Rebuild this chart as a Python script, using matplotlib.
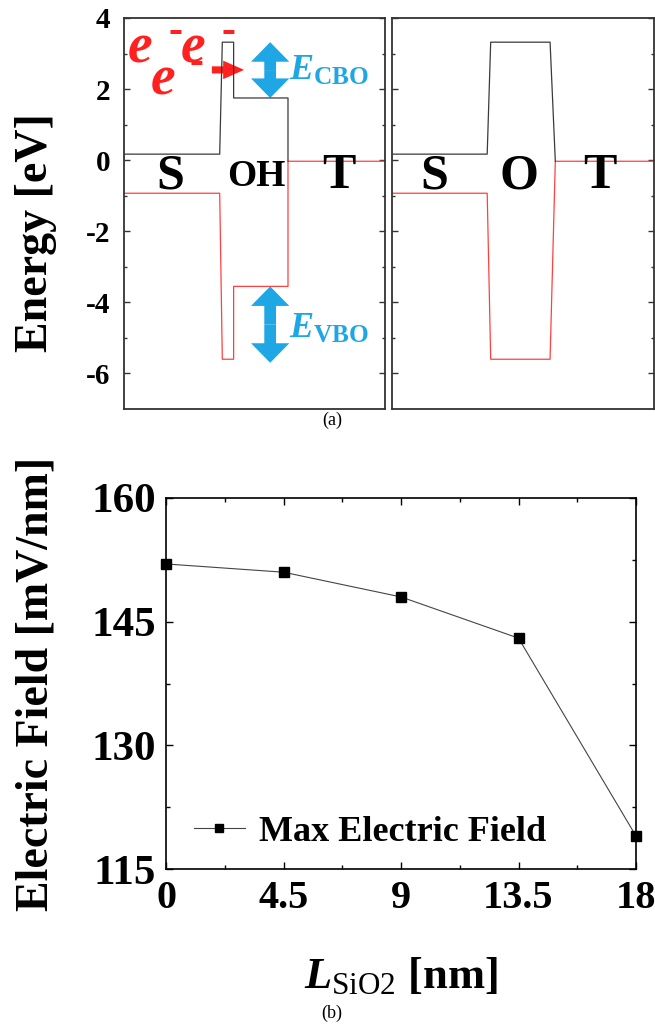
import numpy as np
import matplotlib
matplotlib.use("Agg")
import matplotlib.pyplot as plt
from matplotlib.patches import FancyArrow

params = {
    "font.family": "serif",
    "font.serif": ["Liberation Serif", "DejaVu Serif"],
    "font.weight": "bold",
    "mathtext.fontset": "custom",
    "mathtext.rm": "Liberation Serif:regular",
    "mathtext.it": "Liberation Serif:italic:bold",
    "mathtext.bf": "Liberation Serif:bold",
    "axes.unicode_minus": False,
    "xtick.direction": "in",
    "ytick.direction": "in",
}
plt.rcParams.update(params)

# band diagrams: position across the device [nm] and band energy [eV]
x_oh = [0, 11.0, 11.3, 12.6, 12.6, 18.85, 18.85]
cb_oh = [0.17, 0.17, 3.32, 3.32, 1.75, 1.75, -0.03]
xv_oh = [0, 11.0, 11.3, 12.6, 12.6, 18.85, 18.85, 30]
vb_oh = [-0.93, -0.93, -5.6, -5.6, -3.55, -3.55, -0.03, -0.03]

x_o = [0, 10.9, 11.3, 18.1, 18.7]
cb_o = [0.17, 0.17, 3.32, 3.32, -0.03]
xv_o = [0, 10.9, 11.3, 18.1, 18.7, 30]
vb_o = [-0.93, -0.93, -5.6, -5.6, -0.03, -0.03]

# max electric field vs SiO2 length
l_sio2 = [0, 4.5, 9, 13.5, 18]
e_max = [152, 151, 148, 143, 119]

blue = "#1ea7e4"
red = "#ff2020"
band_red = "#ff4040"
band_black = "#3a3a3a"

fig = plt.figure(figsize=(6.55, 10.26), dpi=100)
W, H = 655, 1026


def add_axes_px(x0, y0, x1, y1):
    return fig.add_axes([x0 / W, 1 - y1 / H, (x1 - x0) / W, (y1 - y0) / H])


ax1 = add_axes_px(124, 18, 385, 409)
ax2 = add_axes_px(392, 18, 654, 409)
ax3 = add_axes_px(166, 498, 636, 869)

for ax in (ax1, ax2):
    ax.set_xlim(0, 30)
    ax.set_ylim(-7, 4)
    ax.set_yticks([4, 2, 0, -2, -4, -6])
    ax.set_yticks([3, 1, -1, -3, -5], minor=True)
    ax.set_xticks([])
    ax.tick_params(axis="y", which="both", left=True, right=True,
                   width=1.0, color="#333333")
    ax.tick_params(axis="y", which="major", length=4)
    ax.tick_params(axis="y", which="minor", length=2.5)
    for s in ax.spines.values():
        s.set_color("#333333")
        s.set_linewidth(1.3)

ax1.plot(xv_oh, vb_oh, color=band_red, lw=0.9)
ax1.plot(x_oh, cb_oh, color=band_black, lw=0.9)
ax2.plot(xv_o, vb_o, color=band_red, lw=0.9)
ax2.plot(x_o, cb_o, color=band_black, lw=0.9)

ax1.tick_params(axis="y", labelsize=21, pad=10)
ax2.tick_params(axis="y", labelleft=False)
ax1.set_ylabel("Energy [eV]", fontsize=33, fontweight="bold")
ax1.yaxis.set_label_coords(-0.255, 0.45)

# region letters
for x, t, fs in [(5.3, "S", 36), (15.2, "OH", 27), (24.7, "T", 36)]:
    ax1.text(x, -0.45, t, fontsize=fs, fontweight="bold", ha="center", va="center")
for x, t in [(4.8, "S"), (14.5, "O"), (23.8, "T")]:
    ax2.text(x, -0.45, t, fontsize=36, fontweight="bold", ha="center", va="center")


def double_arrow(ax, x, y0, y1):
    mid = (y0 + y1) / 2
    for end in (y0, y1):
        ax.add_patch(FancyArrow(x, mid, 0, end - mid, width=1.35, head_width=4.4,
                                head_length=0.55, length_includes_head=True,
                                color=blue, lw=0))


double_arrow(ax1, 16.8, 1.75, 3.32)
double_arrow(ax1, 16.8, -3.55, -5.7)
ax1.text(19.0, 2.5, r"$\mathit{E}_{\mathbf{CBO}}$", color=blue, fontsize=26,
         ha="left", va="center")
ax1.text(19.0, -4.75, r"$\mathit{E}_{\mathbf{VBO}}$", color=blue, fontsize=26,
         ha="left", va="center")

# electrons injected over the barrier
for x, y in [(1.84, 3.15), (7.9, 3.15), (4.5, 2.25)]:
    ax1.text(x, y, "e", color=red, fontsize=40, fontweight="bold",
             style="italic", ha="center", va="center")
for x, y in [(5.9, 3.62), (12.0, 3.62), (8.3, 2.72)]:
    ax1.text(x, y, "-", color=red, fontsize=30, fontweight="bold",
             ha="center", va="center")
ax1.add_patch(FancyArrow(10.1, 2.54, 3.7, 0, width=0.2, head_width=0.52,
                         head_length=2.4, length_includes_head=True,
                         color=red, lw=0))

fig.text(332 / W, 1 - 420 / H, "(a)", fontsize=13, fontweight="normal",
         ha="center", va="center")

# electric field panel
ax3.plot(l_sio2, e_max, color="#444444", lw=0.8, marker="s", ms=7,
         mfc="black", mec="black", label="Max Electric Field", clip_on=False)
ax3.set_xlim(0, 18)
ax3.set_ylim(115, 160)
ax3.set_xticks(l_sio2)
ax3.set_xticklabels(["0", "4.5", "9", "13.5", "18"])
ax3.set_xticks([2.25, 6.75, 11.25, 15.75], minor=True)
ax3.set_yticks([160, 145, 130, 115])
ax3.set_yticks([152.5, 137.5, 122.5], minor=True)
ax3.tick_params(which="both", top=True, right=True, width=1.0)
ax3.tick_params(which="major", length=5)
ax3.tick_params(which="minor", length=3)
ax3.tick_params(axis="y", pad=7, labelsize=31)
ax3.tick_params(axis="x", pad=8, labelsize=29)
for s in ax3.spines.values():
    s.set_linewidth(1.2)

ax3.set_ylabel("Electric Field [mV/nm]", fontsize=33, fontweight="bold")
ax3.yaxis.set_label_coords(-0.23, 0.5)
ax3.set_xlabel(r"$\mathit{L}_{\mathrm{SiO2}}$ [nm]", fontsize=32, fontweight="bold")
ax3.xaxis.set_label_coords(0.5, -0.235)

ax3.legend(loc="center left", bbox_to_anchor=(0.06, 0.1), frameon=False,
           fontsize=26, handlelength=1.4, handletextpad=0.4, borderpad=0,
           borderaxespad=0, markerscale=0.8)

fig.text(332 / W, 1 - 1013 / H, "(b)", fontsize=13, fontweight="normal",
         ha="center", va="center")

fig.savefig("out.png", dpi=100)
